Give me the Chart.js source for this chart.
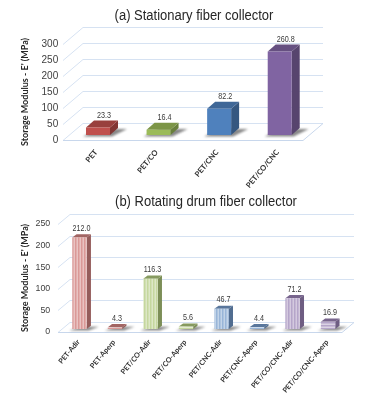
<!DOCTYPE html>
<html><head><meta charset="utf-8">
<script src="https://cdn.jsdelivr.net/npm/chart.js@4"></script>
<style>
html,body{margin:0;padding:0;background:#fff;width:370px;height:394px;overflow:hidden}
.w{position:absolute;left:0;width:370px;filter:blur(.35px)}
.t{position:absolute;white-space:nowrap;font:15.2px 'Liberation Sans',sans-serif;color:#262626;transform:translateX(-50%) scaleX(.855);filter:blur(.25px)}
</style></head><body>
<div class="w" style="top:0;height:190px"><canvas id="a"></canvas></div>
<div class="w" style="top:190px;height:204px"><canvas id="b"></canvas></div>
<script>
const categoriesA = ["PET","PET/CO","PET/CNC","PET/CO/CNC"];
const valuesA = [23.3,16.4,82.2,260.8];
const coloursA = ["#c0504d","#9bbb59","#4f81bd","#8064a2"];
const ticksA = [0,50,100,150,200,250,300];

const categoriesB = ["PET-Adir","PET-Aperp","PET/CO-Adir","PET/CO-Aperp","PET/CNC-Adir","PET/CNC-Aperp","PET/CO/CNC-Adir","PET/CO/CNC-Aperp"];
const valuesB = [212.0,4.3,116.3,5.6,46.7,4.4,71.2,16.9];
const coloursB = ["#c0504d","#c0504d","#9bbb59","#9bbb59","#4f81bd","#4f81bd","#8064a2","#8064a2"];
const stripesB = ["v","h","v","h","v","h","v","h"];
const ticksB = [0,50,100,150,200,250];

const FONT = "Lato, 'Liberation Sans', sans-serif";
function rgb(hex){const n=parseInt(hex.slice(1),16);return [n>>16,(n>>8)&255,n&255];}
function shade(hex,f){return 'rgb('+rgb(hex).map(c=>c*f|0).join(',')+')';}
function tint(hex,f){return 'rgb('+rgb(hex).map(c=>c+(255-c)*f|0).join(',')+')';}
function stripe(hex,dir){
  const c=document.createElement('canvas');c.width=3;c.height=3;
  const x=c.getContext('2d');
  x.fillStyle=tint(hex,.42);x.fillRect(0,0,3,3);
  x.fillStyle=tint(hex,.72);
  if(dir==='v')x.fillRect(1.6,0,1.2,3);else x.fillRect(0,1.5,3,1.5);
  return x.createPattern(c,'repeat');
}
function poly(c,p,fill){c.beginPath();p.forEach((q,i)=>i?c.lineTo(q[0],q[1]):c.moveTo(q[0],q[1]));c.closePath();c.fillStyle=fill;c.fill();}

function depth3d(o){return {
  id:'depth3d',
  beforeDatasetsDraw(ch){
    const c=ch.ctx,y=ch.scales.y;
    c.save();c.lineWidth=1;c.strokeStyle='#d6e2f2';
    o.ticks.forEach(v=>{
      const p=Math.round(y.getPixelForValue(v))+.5;
      c.beginPath();c.moveTo(o.left,p);c.lineTo(o.left+o.dx,p-o.dy);c.lineTo(o.right+o.dx,p-o.dy);c.stroke();
    });
    const b=Math.round(y.getPixelForValue(0))+.5;
    c.strokeStyle='#c8d7ec';
    c.beginPath();c.moveTo(o.left,b);c.lineTo(o.right,b);c.lineTo(o.right+o.dx,b-o.dy);c.stroke();
    ch.getDatasetMeta(0).data.forEach((e,i)=>{
      const w=e.width,l=e.x-w/2,r=e.x+w/2,base=e.base-o.lift,top=e.y-o.lift;
      c.save();c.filter='blur(1.1px)';
      poly(c,[[l-3,base+1.5],[r+2,base+1.5],[r+o.bx+o.sx,base-o.by+1],[l+o.bx+4,base-o.by+1]],'rgba(85,85,85,.7)');
      c.restore();
      poly(c,[[r,top],[r+o.bx,top-o.by],[r+o.bx,base-o.by],[r,base]],shade(o.colours[i],o.sf));
      poly(c,[[l,top],[r,top],[r+o.bx,top-o.by],[l+o.bx,top-o.by]],shade(o.colours[i],o.tf));
    });
    c.restore();
    c.save();c.translate(0,-o.lift);
  },
  afterDatasetsDraw(ch){
    const c=ch.ctx;c.restore();
    c.save();c.fillStyle='#3a3a3a';c.font="9px 'Liberation Sans',sans-serif";c.textAlign='center';c.textBaseline='middle';
    ch.getDatasetMeta(0).data.forEach((e,i)=>{
      const s=o.values[i].toFixed(1);
      c.fillText(s,e.x+o.lx,e.y-o.lift-o.ly,c.measureText(s).width*.8);
    });
    c.restore();
  }
};}

function make(id,cats,vals,fills,o){
  new Chart(document.getElementById(id),{
    type:'bar',
    data:{labels:cats,datasets:[{data:vals,backgroundColor:fills,borderWidth:0,barPercentage:o.bp,categoryPercentage:1}]},
    plugins:[depth3d(o)],
    options:{
      responsive:true,maintainAspectRatio:false,animation:false,
      layout:{padding:{left:0,right:o.padR,top:o.padT,bottom:0}},
      plugins:{legend:{display:false},tooltip:{enabled:false},title:{display:false}},
      scales:{
        x:{afterFit:s=>{s.height=o.xh},grid:{display:false,drawTicks:false},border:{display:false},
           ticks:{maxRotation:50,minRotation:50,autoSkip:false,padding:o.xp,labelOffset:o.xo,color:'#303030',
                  font:{family:FONT,size:o.xs,weight:'bold'}}},
        y:{min:0,max:o.max,afterFit:s=>{s.width=o.yw},grid:{display:false,drawTicks:false},border:{display:false},
           afterBuildTicks:s=>{s.ticks=o.ticks.map(v=>({value:v}))},
           title:{display:true,text:"Storage Modulus - E' (MPa)",color:'#262626',padding:{top:o.tp,bottom:0},
                  font:{family:FONT,size:9,weight:'bold'}},
           ticks:{padding:o.yp,color:'#404040',font:{family:"'Liberation Sans',sans-serif",size:o.ys}}}
      }
    }
  });
}

make('a',categoriesA,valuesA,coloursA,{
  padR:60,padT:44,xh:50,yw:67.7,bp:.396,max:300,ticks:ticksA,values:valuesA,colours:coloursA,
  left:63,right:303,dx:20,dy:17,lift:5,bx:8,by:7,sx:9,sf:.68,tf:.8,lx:6,ly:12,xs:7.6,xp:8,xo:-2,yp:9.5,ys:10,tp:20
});
make('b',categoriesB,valuesB,stripesB.map((d,i)=>stripe(coloursB[i],d)),{
  padR:24.2,padT:34,xh:62,yw:61.7,bp:.405,max:250,ticks:ticksB,values:valuesB,colours:["#d0827f","#d0827f","#adc67a","#adc67a","#7198c8","#7198c8","#9a82b5","#9a82b5"],
  left:58,right:342,dx:12,dy:10,lift:3,bx:4.3,by:3.2,sx:8,sf:.72,tf:.78,lx:2,ly:9,xs:7.2,xp:6,xo:-1,yp:11.5,ys:8.8,tp:20
});
</script>
<div class="t" style="left:194px;top:6px">(a) Stationary fiber collector</div>
<div class="t" style="left:205.5px;top:192px">(b) Rotating drum fiber collector</div>
</body></html>
